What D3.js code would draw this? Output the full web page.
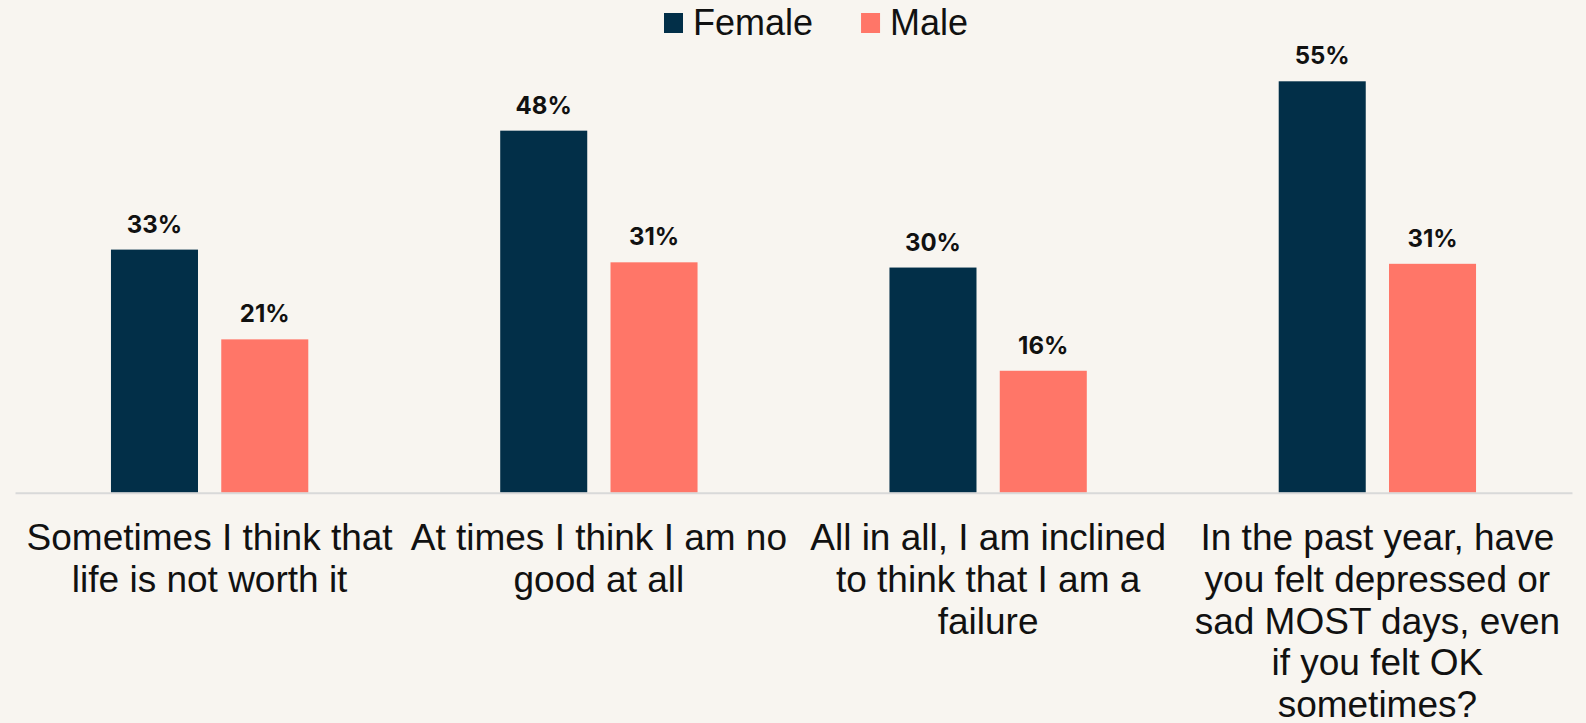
<!DOCTYPE html>
<html>
<head>
<meta charset="utf-8">
<script src="https://cdn.jsdelivr.net/npm/d3@7"></script>
<style>
  body { margin: 0; background: #f8f5f0; }
  svg { display: block; }
</style>
</head>
<body>
<svg width="1586" height="723"></svg>
<script>
var categories = [
    "Sometimes I think that life is not worth it",
    "At times I think I am no good at all",
    "All in all, I am inclined to think that I am a failure",
    "In the past year, have you felt depressed or sad MOST days, even if you felt OK sometimes?"
];
var seriesNames = ["Female", "Male"];
var female = [32.5, 48.4, 30.1, 55.0];
var male = [20.5, 30.8, 16.3, 30.6];

var colors = {
    "Female": "#022f48",
    "Male": "#ff7668"
};

var svg = d3.select("svg"),
    width = +svg.attr("width"),
    height = +svg.attr("height");

var baseY = 492.7;

var x0 = d3.scaleBand()
    .domain(categories)
    .range([15, 1572])
    .padding(0);

var x1 = d3.scaleBand()
    .domain(seriesNames)
    .range([0, x0.bandwidth()])
    .paddingInner(0.211)
    .paddingOuter(0.87);

var y = d3.scaleLinear()
    .domain([0, 60])
    .range([baseY, baseY - 60 * 7.48]);

var rows = categories.map(function(c, i) {
    return { cat: c, values: [
        { name: "Female", value: female[i] },
        { name: "Male", value: male[i] }
    ]};
});

var groups = svg.selectAll(".group")
    .data(rows)
    .enter().append("g")
    .attr("class", "group")
    .attr("transform", function(d) { return "translate(" + x0(d.cat) + ",0)"; });

groups.selectAll("rect")
    .data(function(d) { return d.values; })
    .enter().append("rect")
    .attr("x", function(d) { return x1(d.name); })
    .attr("y", function(d) { return y(d.value); })
    .attr("width", x1.bandwidth())
    .attr("height", function(d) { return baseY - y(d.value); })
    .attr("fill", function(d) { return colors[d.name]; });

groups.selectAll(".val")
    .data(function(d) { return d.values; })
    .enter().append("text")
    .attr("class", "val")
    .attr("x", function(d) { return x1(d.name) + x1.bandwidth() / 2; })
    .attr("y", function(d) { return y(d.value) - 17; })
    .attr("text-anchor", "middle")
    .style("font-family", "Inter, 'Noto Sans', sans-serif")
    .style("font-weight", "700")
    .style("font-size", "24px")
    .style("fill", "#111")
    .text(function(d) { return Math.round(d.value) + "%"; });

// baseline
var xAxis = svg.append("g")
    .attr("transform", "translate(0," + baseY + ")")
    .call(d3.axisBottom(x0).tickSize(0).tickFormat(""));
xAxis.select(".domain").attr("stroke", "#d9d9d9").attr("stroke-width", 2);

// category labels, wrapped to the band width
function wrap(textSel, w) {
    textSel.each(function() {
        var text = d3.select(this),
            words = text.text().split(/\s+/),
            line = [],
            cx = text.attr("x"),
            tspan = text.text(null).append("tspan").attr("x", cx).attr("dy", 0);
        words.forEach(function(word) {
            line.push(word);
            tspan.text(line.join(" "));
            if (tspan.node().getComputedTextLength() > w && line.length > 1) {
                line.pop();
                tspan.text(line.join(" "));
                line = [word];
                tspan = text.append("tspan").attr("x", cx).attr("dy", 41.8).text(word);
            }
        });
    });
}

svg.selectAll(".cat")
    .data(categories)
    .enter().append("text")
    .attr("class", "cat")
    .attr("x", function(d) { return x0(d) + x0.bandwidth() / 2; })
    .attr("y", 550)
    .attr("text-anchor", "middle")
    .style("font-family", "'Liberation Sans', Arial, sans-serif")
    .style("font-size", "37px")
    .style("fill", "#111")
    .text(function(d) { return d; })
    .call(wrap, x0.bandwidth() - 4);

// legend
var legend = svg.append("g");
var lx = 664;
seriesNames.forEach(function(name) {
    legend.append("rect")
        .attr("x", lx)
        .attr("y", 13)
        .attr("width", 19)
        .attr("height", 20)
        .attr("fill", colors[name]);
    var t = legend.append("text")
        .attr("x", lx + 29)
        .attr("y", 35)
        .style("font-family", "'Liberation Sans', Arial, sans-serif")
        .style("font-size", "36px")
        .style("fill", "#111")
        .text(name);
    lx = lx + 29 + t.node().getComputedTextLength() + 48;
});
</script>
</body>
</html>
